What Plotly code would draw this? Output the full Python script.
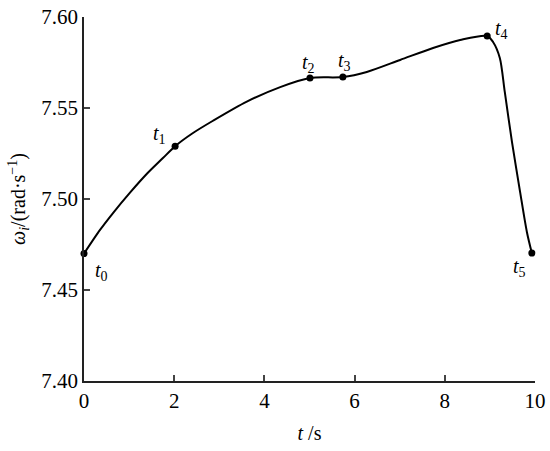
import plotly.graph_objects as go

# curve
t_curve = [0.0, 0.355, 0.643, 1.02, 1.40, 1.75, 2.02, 2.40, 2.86, 3.61, 4.35, 5.01, 5.74, 6.27, 7.01, 7.74,
           8.34, 8.94, 9.07, 9.22, 9.33, 9.49, 9.67, 9.82, 9.93]
w_curve = [7.470, 7.483, 7.4923, 7.5035, 7.5140, 7.5225, 7.529, 7.5360, 7.5430, 7.5535, 7.5615, 7.5665, 7.567,
           7.5698, 7.5764, 7.583, 7.5874, 7.5896, 7.5863, 7.5775, 7.5588, 7.5313, 7.5038, 7.4819, 7.4703]

# marked instants t0..t5
t_mark = [0.0, 2.02, 5.01, 5.74, 8.94, 9.93]
w_mark = [7.470, 7.529, 7.5665, 7.567, 7.5896, 7.4703]
labels = ['<i>t</i><sub>0</sub>', '<i>t</i><sub>1</sub>', '<i>t</i><sub>2</sub>',
          '<i>t</i><sub>3</sub>', '<i>t</i><sub>4</sub>', '<i>t</i><sub>5</sub>']
label_shift = [(17, -18), (-16, 12), (-1, 14), (2, 16), (14, 6), (-12, -14)]

font = 'Liberation Serif'

fig = go.Figure()
fig.add_trace(go.Scatter(x=t_curve, y=w_curve, mode='lines',
                         line=dict(color='black', width=2, shape='spline', smoothing=0.8),
                         cliponaxis=False, hoverinfo='skip'))
fig.add_trace(go.Scatter(x=t_mark, y=w_mark, mode='markers',
                         marker=dict(color='black', size=7), cliponaxis=False))

for x, y, txt, (dx, dy) in zip(t_mark, w_mark, labels, label_shift):
    fig.add_annotation(x=x, y=y, text=txt, showarrow=False, xshift=dx, yshift=dy,
                       font=dict(family=font, size=20, color='black'))

fig.update_xaxes(range=[0, 10], tick0=0, dtick=2, ticks='inside', ticklen=6, tickwidth=1.5,
                 showline=True, linecolor='#222', linewidth=1.5, showgrid=False, zeroline=False,
                 automargin=False, tickfont=dict(family=font, size=21, color='black'),
                 title=dict(text='<i>t</i> /s', font=dict(family=font, size=20, color='black'), standoff=14))
fig.update_yaxes(range=[7.40, 7.60], tick0=7.40, dtick=0.05, tickformat='.2f', ticks='inside', ticklen=6,
                 tickwidth=1.5, showline=True, linecolor='#222', linewidth=1.5, showgrid=False, zeroline=False,
                 automargin=False, tickfont=dict(family=font, size=21, color='black'),
                 title=dict(text='<i>ω<sub>i</sub></i>/(rad·s<sup>−1</sup>)',
                            font=dict(family=font, size=20, color='black'), standoff=10))
fig.update_layout(width=550, height=451, showlegend=False, font=dict(family=font, color='black'),
                  plot_bgcolor='white', paper_bgcolor='white',
                  margin=dict(l=84, r=15, t=17, b=70))
fig.write_html("out.html", config={'displayModeBar': False},
               post_script="document.body.style.margin='0';")
